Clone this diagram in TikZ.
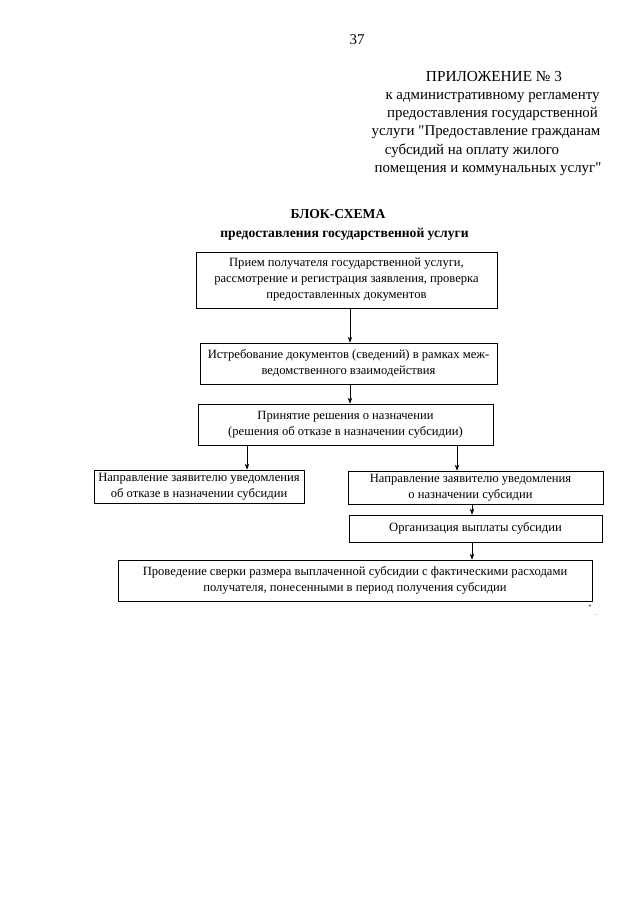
\documentclass[tikz,border=0pt]{standalone}
\usepackage{fontspec}
\setmainfont{Liberation Serif}[Ligatures=TeXOff]
\usetikzlibrary{arrows.meta}
\begin{document}
\begin{tikzpicture}[x=1pt,y=-1pt,
  box/.style={draw=black,line width=0.7pt,inner sep=0pt,align=center,font=\fontsize{12.6}{16}\selectfont},
  hdr/.style={inner sep=0pt,anchor=base,font=\fontsize{14.9}{16}\selectfont},
  ttl/.style={inner sep=0pt,anchor=base,font=\fontsize{13.6}{16}\selectfont\bfseries},
  arr/.style={line width=0.7pt,-{Stealth[length=6pt,width=4.5pt]}}]
\useasboundingbox (0,0) rectangle (640,905);
% header
\node[hdr] (pg) at (357,44) {37};
\node[hdr,font=\fontsize{15.3}{16}\selectfont] (h1) at (494,81) {ПРИЛОЖЕНИЕ № 3};
\node[hdr] (h2) at (492.5,99) {к административному регламенту};
\node[hdr] (h3) at (492.5,117) {предоставления государственной};
\node[hdr] (h4) at (486,135) {услуги "Предоставление гражданам};
\node[hdr] (h5) at (472,154) {субсидий на оплату жилого};
\node[hdr] (h6) at (488,172) {помещения и коммунальных услуг"};
\node[ttl] (t1) at (338,218) {БЛОК-СХЕМА};
\node[ttl] (t2) at (344.5,237) {предоставления государственной услуги};
% boxes
\node[box,minimum width=301,minimum height=56] (b1) at (346.5,280) {Прием получателя государственной услуги,\\рассмотрение и регистрация заявления, проверка\\предоставленных документов};
\node[box,minimum width=297,minimum height=41] (b2) at (348.5,363.5) {Истребование документов (сведений) в рамках меж-\\ведомственного взаимодействия};
\node[box,minimum width=295,minimum height=41] (b3) at (345.5,424.5) {Принятие решения о назначении\\(решения об отказе в назначении субсидии)};
\node[box,minimum width=210,minimum height=33] (b4) at (199,486.5) {Направление заявителю уведомления\\об отказе в назначении субсидии};
\node[box,minimum width=255,minimum height=33] (b5) at (475.5,487.5) {\hspace*{-10pt}Направление заявителю уведомления\\\hspace*{-10pt}о назначении субсидии};
\node[box,minimum width=253,minimum height=27] (b6) at (475.5,528.5) {Организация выплаты субсидии};
\node[box,minimum width=474,minimum height=41] (b7) at (355,580.5) {Проведение сверки размера выплаченной субсидии с фактическими расходами\\получателя, понесенными в период получения субсидии};
\node[inner sep=0pt,font=\fontsize{8}{8}\selectfont] (q) at (590,608) {"};
\node[inner sep=0pt,font=\fontsize{6}{6}\selectfont] (dt) at (596,615) {.};
% arrows
\draw[arr] (b1.south -| 350,0) -- (b2.north -| 350,0);
\draw[arr] (b2.south -| 350,0) -- (b3.north -| 350,0);
\draw[arr] (b3.south -| 247,0) -- (b4.north -| 247,0);
\draw[arr] (b3.south -| 457,0) -- (b5.north -| 457,0);
\draw[arr] (b5.south -| 472,0) -- (b6.north -| 472,0);
\draw[arr] (b6.south -| 472,0) -- (b7.north -| 472,0);
\end{tikzpicture}
\end{document}
